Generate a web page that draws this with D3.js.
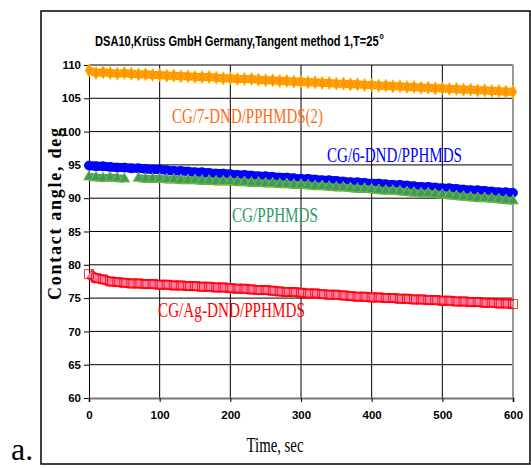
<!DOCTYPE html>
<html><head><meta charset="utf-8">
<script src="https://cdn.jsdelivr.net/npm/d3@7"></script>
<style>body{margin:0;background:#fff;}svg{display:block;}</style>
</head><body>
<svg id="c" width="531" height="468"></svg>
<script>
const times = [0,10,20,30,40,50,60,70,80,90,100,110,120,130,140,150,160,170,180,190,200,210,220,230,240,250,260,270,280,290,300,310,320,330,340,350,360,370,380,390,400,410,420,430,440,450,460,470,480,490,500,510,520,530,540,550,560,570,580,590,600];
const orangeVals = [109.2,108.8,108.9,108.8,108.7,108.8,108.7,108.6,108.6,108.5,108.5,108.4,108.4,108.3,108.3,108.2,108.2,108.2,108.1,108.0,108.0,107.9,107.9,107.9,107.8,107.7,107.7,107.6,107.6,107.5,107.5,107.4,107.4,107.3,107.3,107.2,107.2,107.1,107.1,107.0,107.0,106.9,106.9,106.8,106.8,106.7,106.7,106.6,106.6,106.5,106.5,106.4,106.4,106.3,106.3,106.2,106.2,106.1,106.1,106.0,106.0];
const blueVals = [94.9,94.8,94.8,94.7,94.6,94.6,94.5,94.5,94.4,94.3,94.3,94.2,94.1,94.1,94.0,93.9,93.9,93.8,93.7,93.7,93.6,93.5,93.5,93.4,93.3,93.3,93.2,93.1,93.1,93.0,92.9,92.9,92.8,92.7,92.7,92.6,92.5,92.4,92.4,92.3,92.2,92.2,92.1,92.0,92.0,91.9,91.8,91.7,91.7,91.6,91.5,91.5,91.4,91.3,91.2,91.2,91.1,91.0,90.9,90.9,90.8];
const greenVals = [93.2,93.1,93.0,93.1,93.0,92.9,null,93.0,92.9,92.9,92.9,92.8,92.8,92.7,92.7,92.7,92.6,92.6,92.5,92.5,92.5,92.4,92.4,92.3,92.3,92.2,92.2,92.1,92.1,92.0,92.0,91.9,91.8,91.8,91.7,91.6,91.6,91.5,91.4,91.4,91.3,91.2,91.1,91.1,91.0,90.9,90.8,90.7,90.7,90.6,90.5,90.4,90.3,90.2,90.1,90.0,90.0,89.9,89.8,89.7,89.6];
const redVals = [78.6,78.0,77.8,77.5,77.4,77.3,77.2,77.2,77.1,77.1,77.0,77.0,76.9,76.9,76.8,76.8,76.7,76.7,76.6,76.6,76.5,76.4,76.4,76.3,76.2,76.2,76.1,76.0,75.9,75.9,75.8,75.7,75.7,75.6,75.5,75.5,75.4,75.3,75.2,75.2,75.1,75.1,75.0,75.0,74.9,74.9,74.8,74.8,74.7,74.7,74.6,74.6,74.5,74.5,74.4,74.4,74.3,74.3,74.2,74.2,74.1];
const seriesNames = ["CG/7-DND/PPHMDS(2)","CG/6-DND/PPHMDS","CG/PPHMDS","CG/Ag-DND/PPHMDS"];
const xTicks = [0,100,200,300,400,500,600];
const yTicks = [60,65,70,75,80,85,90,95,100,105,110];
const titleText = "DSA10,Krüss GmbH Germany,Tangent method 1,T=25";

const svg = d3.select("#c");
const x = d3.scaleLinear().domain([0,600]).range([89,513]);
const y = d3.scaleLinear().domain([60,110]).range([398,65]);

// frame
svg.append("rect").attr("x",41).attr("y",11).attr("width",489).attr("height",453)
  .attr("fill","none").attr("stroke","#000").attr("stroke-width",1.5);

// grid
svg.append("g").selectAll("line").data(yTicks.filter(d=>d>60)).join("line")
  .attr("x1",x(0)).attr("x2",x(600)).attr("y1",d=>y(d)).attr("y2",d=>y(d))
  .attr("stroke","#000").attr("stroke-width",1);
svg.append("g").selectAll("line").data(xTicks.filter(d=>d>0&&d<600)).join("line")
  .attr("x1",d=>x(d)).attr("x2",d=>x(d)).attr("y1",y(110)).attr("y2",y(60))
  .attr("stroke","#000").attr("stroke-width",1);
svg.append("line").attr("x1",x(600)).attr("x2",x(600)).attr("y1",y(110)).attr("y2",y(60))
  .attr("stroke","#999").attr("stroke-width",2);

// axes
const tickFont = "'Liberation Sans Narrow','Arial Narrow','Liberation Sans',sans-serif";
const yAxis = svg.append("g").attr("transform",`translate(${x(0)},0)`)
  .call(d3.axisLeft(y).tickValues(yTicks).tickSize(5).tickPadding(3));
const xAxis = svg.append("g").attr("transform",`translate(0,${y(60)})`)
  .call(d3.axisBottom(x).tickValues(xTicks).tickSize(4).tickPadding(9));
[yAxis,xAxis].forEach(a=>{
  a.selectAll("text").attr("font-family",tickFont).attr("font-weight","bold").attr("font-size","11.5px").attr("fill","#000");
  a.selectAll(".tick line").attr("stroke","#000");
});
yAxis.select(".domain").attr("stroke","#000").attr("stroke-width",1);
xAxis.select(".domain").attr("stroke","#777").attr("stroke-width",2);

// series
const series = [
  {vals: orangeVals, sym: d3.symbolDiamond, size: 50, fill:"#ff9400", stroke:"#ffbf00", band:"#ff8800", bw:8, inner:null},
  {vals: blueVals, sym: d3.symbolCircle, size: 64, fill:"#0000ff", stroke:"#0000ff", band:"#0000ff", bw:9, inner:null},
  {vals: greenVals, sym: d3.symbolTriangle, size: 50, fill:"#3c9a5c", stroke:"#8cc030", band:"#3f9a5e", bw:8, inner:null},
  {vals: redVals, sym: d3.symbolSquare, size: 81, fill:"none", stroke:"#ff0000", band:"#ff1020", bw:10, inner:"#ff7fa8"}
];
series.forEach(s=>{
  const pts = times.map((t,i)=>({t, v:s.vals[i]}));
  const line = d3.line().defined(d=>d.v!=null).x(d=>x(d.t)).y(d=>y(d.v));
  svg.append("path").attr("d",line(pts)).attr("fill","none").attr("stroke",s.band).attr("stroke-width",s.bw);
  if (s.inner) svg.append("path").attr("d",line(pts)).attr("fill","none").attr("stroke",s.inner).attr("stroke-width",s.bw-4);
  svg.append("g").selectAll("path").data(pts.filter(d=>d.v!=null)).join("path")
    .attr("transform",d=>`translate(${x(d.t)},${y(d.v)})`)
    .attr("d",d3.symbol().type(s.sym).size(s.size))
    .attr("fill",s.fill).attr("stroke",s.stroke).attr("stroke-width",0.8);
});

// series labels
const labelFont = "'Liberation Serif','Times New Roman',serif";
const labelPos = [
  {x:172, y:123, w:151, c:"#ff6a10"},
  {x:327, y:162, w:135, c:"#0000ff"},
  {x:232, y:222, w:86, c:"#339966"},
  {x:158, y:317, w:147, c:"#ff0000"}
];
seriesNames.forEach((n,i)=>{
  const p = labelPos[i];
  svg.append("text").attr("x",p.x).attr("y",p.y).text(n)
    .attr("font-family",labelFont).attr("font-size","22px").attr("fill",p.c)
    .attr("textLength",p.w).attr("lengthAdjust","spacingAndGlyphs");
});

// title: one text element, main part sized to span ~284px, superscript degree as tspan
const title = svg.append("text").attr("transform","translate(95,46) scale(1,1.25)")
  .attr("font-family",tickFont).attr("font-weight","bold").attr("font-size","16px").attr("fill","#000");
const mainSpan = title.append("tspan").text(titleText);
const natural = mainSpan.node().getComputedTextLength();
title.attr("font-size", (16*284/natural).toFixed(2)+"px");
title.append("tspan").text("o").attr("font-size","7px").attr("dx",1).attr("dy",-6);

// axis labels
svg.append("text").attr("transform","translate(61,214) rotate(-90)").attr("text-anchor","middle")
  .attr("font-family",labelFont).attr("font-weight","bold").attr("font-size","18px")
  .attr("textLength",172).attr("lengthAdjust","spacing").text("Contact angle, deg");
svg.append("text").attr("x",275).attr("y",452).attr("text-anchor","middle")
  .attr("font-family",labelFont).attr("font-size","20px")
  .attr("textLength",57).attr("lengthAdjust","spacingAndGlyphs").text("Time, sec");
svg.append("text").attr("x",11).attr("y",460)
  .attr("font-family",labelFont).attr("font-size","32px").text("a.");
</script>
</body></html>
